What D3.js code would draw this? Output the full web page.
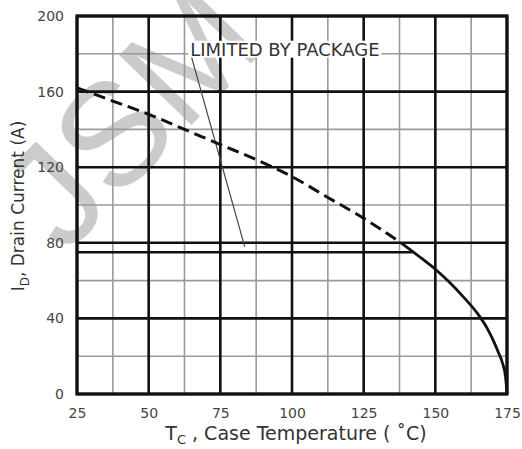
<!DOCTYPE html>
<html>
<head>
<meta charset="utf-8">
<script src="https://cdn.jsdelivr.net/npm/d3@7"></script>
<style>
  body { margin: 0; background: #fff; }
  svg text { font-family: "DejaVu Sans", sans-serif; }
</style>
</head>
<body>
<svg id="chart" width="522" height="449"></svg>
<script>
// ticks
const tempTicks = [25, 50, 75, 100, 125, 150, 175];
const tempMinor = [37.5, 62.5, 87.5, 112.5, 137.5, 162.5];
const currentTicks = [0, 40, 80, 120, 160, 200];
const currentMinor = [20, 60, 100, 140, 180];

// derating curve (dashed part, then solid part)
const dashedTemp = [25, 37.5, 50, 62.5, 75, 87.5, 100, 112.5, 125, 138];
const dashedCurrent = [162, 155, 148, 140, 132, 124, 115, 104, 93, 80];
const solidTemp = [138, 145, 150, 155, 160, 165, 168, 170, 172, 173.5, 174.5, 175];
const solidCurrent = [80, 72, 66, 59, 51, 42, 35, 29, 22, 16, 9, 0];

// package limit
const packageTemp = [25, 142];
const packageCurrent = [75, 75];
const leaderTemp = [65, 83.5];
const leaderCurrent = [178, 78];

let margin = {top: 16, right: 15, bottom: 55, left: 77};
let svgWidth = 522, svgHeight = 449;
let width = svgWidth - margin.left - margin.right,
    height = svgHeight - margin.top - margin.bottom;

let x = d3.scaleLinear().domain([25, 175]).range([0, width]),
    y = d3.scaleLinear().domain([0, 200]).range([height, 0]);

let svg = d3.select("#chart");

// watermark, sits under the grid
svg.append("text")
    .text("JSM")
    .attr("transform", "translate(130,116) rotate(-46)")
    .attr("text-anchor", "middle")
    .attr("dominant-baseline", "central")
    .attr("font-size", 146)
    .attr("fill", "#cbcbcb")
    .style("font-family", "Liberation Sans, sans-serif");

let g = svg.append("g")
    .attr("transform", "translate(" + margin.left + "," + margin.top + ")");

// minor grid
g.selectAll(".vminor").data(tempMinor).enter().append("line")
    .attr("x1", d => x(d)).attr("x2", d => x(d))
    .attr("y1", 0).attr("y2", height)
    .attr("stroke", "#9a9a9a").attr("stroke-width", 1.6);
g.selectAll(".hminor").data(currentMinor).enter().append("line")
    .attr("x1", 0).attr("x2", width)
    .attr("y1", d => y(d)).attr("y2", d => y(d))
    .attr("stroke", "#9a9a9a").attr("stroke-width", 1.6);

// major grid
g.selectAll(".vmajor").data(tempTicks).enter().append("line")
    .attr("x1", d => x(d)).attr("x2", d => x(d))
    .attr("y1", 0).attr("y2", height)
    .attr("stroke", "#111").attr("stroke-width", 2.6);
g.selectAll(".hmajor").data(currentTicks).enter().append("line")
    .attr("x1", 0).attr("x2", width)
    .attr("y1", d => y(d)).attr("y2", d => y(d))
    .attr("stroke", "#111").attr("stroke-width", 2.6);

// frame
g.append("rect")
    .attr("width", width).attr("height", height)
    .attr("fill", "none").attr("stroke", "#111").attr("stroke-width", 3.2);

// annotation
let label = g.append("text")
    .text("LIMITED BY PACKAGE")
    .attr("x", x(64.5)).attr("y", y(179))
    .attr("font-size", 18)
    .attr("fill", "#333");
let bb = label.node().getBBox();
g.insert("rect", "text")
    .attr("x", bb.x - 2).attr("y", bb.y + 2)
    .attr("width", bb.width + 4).attr("height", bb.height - 4)
    .attr("fill", "#fff");

let line = d3.line().x(d => x(d[0])).y(d => y(d[1]));

g.append("path")
    .attr("d", line(d3.zip(leaderTemp, leaderCurrent)))
    .attr("stroke", "#444").attr("stroke-width", 1.2).attr("fill", "none");

g.append("path")
    .attr("d", line(d3.zip(packageTemp, packageCurrent)))
    .attr("stroke", "#111").attr("stroke-width", 2.6).attr("fill", "none");

let curve = d3.line().x(d => x(d[0])).y(d => y(d[1])).curve(d3.curveMonotoneX);

g.append("path")
    .attr("d", curve(d3.zip(dashedTemp, dashedCurrent)))
    .attr("stroke", "#111").attr("stroke-width", 3)
    .attr("stroke-dasharray", "12,6").attr("fill", "none");

g.append("path")
    .attr("d", curve(d3.zip(solidTemp, solidCurrent)))
    .attr("stroke", "#111").attr("stroke-width", 2.8).attr("fill", "none");

// axis labels
let xAxis = g.append("g")
    .attr("transform", "translate(0," + height + ")")
    .call(d3.axisBottom(x).tickValues(tempTicks).tickSize(0).tickPadding(14));
let yAxis = g.append("g")
    .call(d3.axisLeft(y).tickValues(currentTicks).tickSize(0).tickPadding(13));
[xAxis, yAxis].forEach(a => {
    a.select(".domain").remove();
    a.selectAll("text")
        .attr("font-size", 14)
        .attr("fill", "#444")
        .style("font-family", "DejaVu Sans, sans-serif");
});

let xt = svg.append("text")
    .attr("x", 296).attr("y", 440)
    .attr("text-anchor", "middle")
    .attr("font-size", 19)
    .attr("fill", "#333");
xt.append("tspan").text("T");
xt.append("tspan").text("C").attr("font-size", 13).attr("dy", 4);
xt.append("tspan").text(" , Case Temperature  ( \u02DAC)").attr("dy", -4);

let yt = svg.append("text")
    .attr("transform", "translate(24,206) rotate(-90)")
    .attr("text-anchor", "middle")
    .attr("font-size", 17)
    .attr("fill", "#333");
yt.append("tspan").text("I");
yt.append("tspan").text("D").attr("font-size", 12).attr("dy", 5);
yt.append("tspan").text(", Drain Current (A)").attr("dy", -5);
</script>
</body>
</html>
